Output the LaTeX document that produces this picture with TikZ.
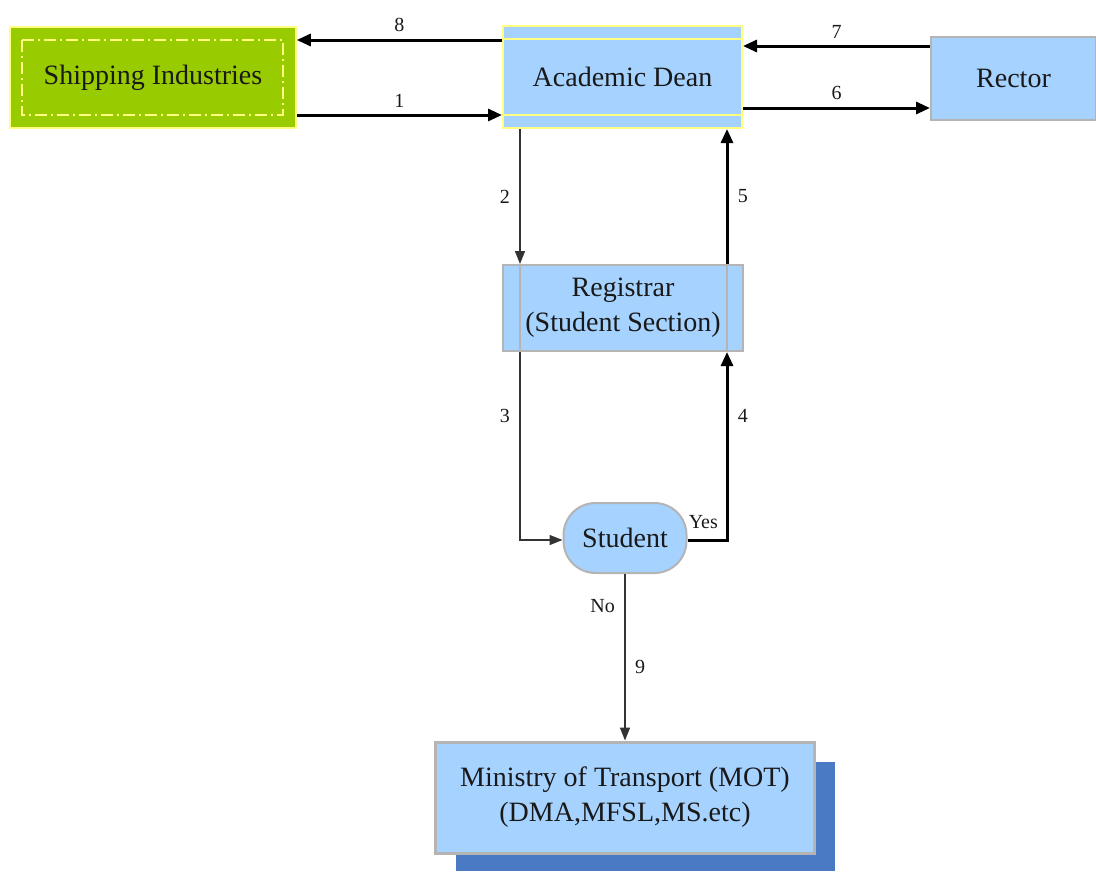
\documentclass[tikz,border=0pt]{standalone}
\usepackage{fontspec}
\setmainfont{Liberation Serif}
\usetikzlibrary{arrows.meta}
\definecolor{boxblue}{HTML}{A6D2FF}
\definecolor{boxgreen}{HTML}{99CC00}
\definecolor{edgeyellow}{HTML}{FFFF80}
\definecolor{edgegrey}{HTML}{B4B4B4}
\definecolor{shadowblue}{HTML}{4A7AC4}
\tikzset{
  every node/.style={font=\fontsize{28}{35}\selectfont, text=black!90},
  bluebox/.style={draw=edgegrey, line width=2pt, fill=boxblue, align=center, inner sep=0pt},
  thickflow/.style={line width=3pt, -{Triangle[length=14pt,width=12pt]}},
  thinflow/.style={line width=1.5pt, draw=black!80, -{Triangle[length=13pt,width=10pt]}},
  numlabel/.style={font=\fontsize{20}{24}\selectfont}
}
\begin{document}
\begin{tikzpicture}[x=1pt,y=-1pt]
\useasboundingbox (0,0) rectangle (1096,871);

% Ministry shadow
\fill[shadowblue] (456,762) rectangle (835,871);

% boxes
\node[draw=edgeyellow, line width=1.5pt, fill=boxgreen, minimum width=286pt, minimum height=101pt] (ship) at (153,77.5) {Shipping Industries};
\draw[edgeyellow, line width=1.3pt, dash pattern=on 12pt off 4pt on 2pt off 4pt] (22,40) rectangle (283,115);

\node[draw=edgeyellow, line width=2pt, fill=boxblue, minimum width=239pt, minimum height=102pt] (dean) at (622.5,77) {Academic Dean};
\draw[edgeyellow, line width=2pt] (503,39) -- (742,39) (503,115) -- (742,115);

\node[bluebox, minimum width=165pt, minimum height=83pt] (rector) at (1013.5,78.5) {Rector};

\node[bluebox, minimum width=240pt, minimum height=86pt] (reg) at (623,308) {Registrar\\(Student Section)};
\draw[edgegrey, line width=1.5pt] (520,265) -- (520,351) (727,265) -- (727,351);

\node[bluebox, rounded corners=32pt, minimum width=123pt, minimum height=70pt] (stu) at (625,538) {Student};

\node[bluebox, line width=3pt, minimum width=379pt, minimum height=111pt] (mot) at (625,797.5) {Ministry of Transport (MOT)\\(DMA,MFSL,MS.etc)};

% connectors
\draw[thickflow] (dean.west |- 0,40) -- (ship.east |- 0,40) node[numlabel, midway, above=3pt] {8};
\draw[thickflow] (ship.east |- 0,115) -- (dean.west |- 0,115) node[numlabel, midway, above=3pt] {1};
\draw[thickflow] (rector.west |- 0,46) -- (dean.east |- 0,46) node[numlabel, midway, above=3pt] {7};
\draw[thickflow] (dean.east |- 0,108) -- (rector.west |- 0,108) node[numlabel, midway, above=3pt] {6};

\draw[thinflow] (dean.south -| 520,0) -- (reg.north -| 520,0) node[numlabel, midway, left=6pt] {2};
\draw[thickflow] (reg.north -| 727,0) -- (dean.south -| 727,0) node[numlabel, midway, right=6pt] {5};

\coordinate (c3) at (520,540);
\coordinate (c4) at (727,540);
\draw[thinflow] (reg.south -| 520,0) -- (c3) node[numlabel, pos=0.34, left=6pt] {3} -- (stu.west |- c3);
\draw[thickflow] (stu.east |- c4) -- (c4) node[numlabel, pos=0.4, above=6pt] {Yes} -- (reg.south -| 727,0) node[numlabel, pos=0.66, right=6pt] {4};

\draw[thinflow] (stu.south) -- (mot.north) node[numlabel, pos=0.19, left=6pt] {No} node[numlabel, pos=0.56, right=6pt] {9};
\end{tikzpicture}
\end{document}
